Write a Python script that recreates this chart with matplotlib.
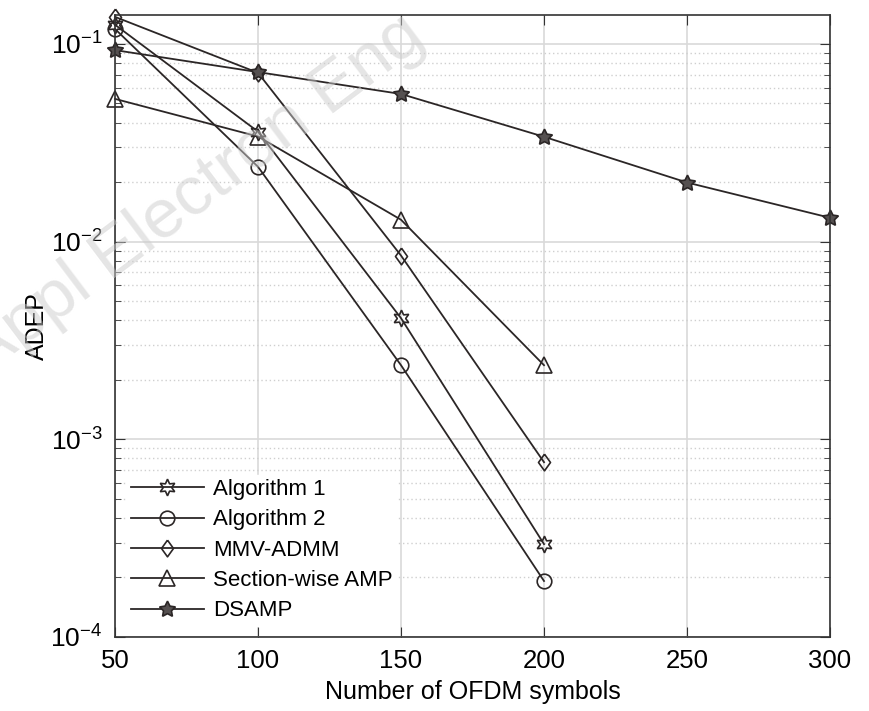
import matplotlib
matplotlib.use("Agg")
import matplotlib.pyplot as plt
from matplotlib.ticker import LogLocator, NullFormatter, FixedLocator, FixedFormatter

plt.rcParams['font.family'] = ['Liberation Sans', 'DejaVu Sans']
plt.rcParams['mathtext.fontset'] = 'custom'
plt.rcParams['mathtext.rm'] = 'Liberation Sans'
plt.rcParams['mathtext.it'] = 'Liberation Sans'
plt.rcParams['mathtext.bf'] = 'Liberation Sans'

x_full = [50, 100, 150, 200, 250, 300]
x_short = [50, 100, 150, 200]

alg1 = [0.125, 0.036, 0.0041, 0.000295]
alg2 = [0.119, 0.0239, 0.00237, 0.000192]
mmv = [0.137, 0.0714, 0.0085, 0.000766]
swamp = [0.0527, 0.034, 0.0129, 0.00237]
dsamp = [0.093, 0.072, 0.0558, 0.0339, 0.0199, 0.0132]

labels = ["Algorithm 1", "Algorithm 2", "MMV-ADMM", "Section-wise AMP", "DSAMP"]
xticks = [50, 100, 150, 200, 250, 300]
yticks = [1e-4, 1e-3, 1e-2, 1e-1]
ytick_labels = [r"$10^{-4}$", r"$10^{-3}$", r"$10^{-2}$", r"$10^{-1}$"]

fig = plt.figure(figsize=(8.69, 7.11), dpi=100)
ax = fig.add_axes([115/869, 1-637/711, (830-115)/869, (637-15)/711])

lc = '#2b2626'
diamond = [(0, 1), (0.72, 0), (0, -1), (-0.72, 0), (0, 1)]
kw = dict(color=lc, lw=1.3, mew=1.2, clip_on=False)
ax.plot(x_short, alg1, marker=(6, 1, 0), ms=12, mfc='none', mec=lc, label=labels[0], **kw)
ax.plot(x_short, alg2, marker='o', ms=10.5, mfc='none', mec=lc, label=labels[1], **kw)
ax.plot(x_short, mmv, marker=diamond, ms=12, mfc='none', mec=lc, label=labels[2], **kw)
ax.plot(x_short, swamp, marker='^', ms=12, mfc='none', mec=lc, label=labels[3], **kw)
ax.plot(x_full, dsamp, marker=(5, 1, 0), ms=12, mfc='#555050', mec=lc, label=labels[4], **kw)

ax.set_yscale('log')
ax.set_xlim(50, 300)
ax.set_ylim(1e-4, 0.14)
ax.set_xticks(xticks)
ax.set_xticklabels([str(v) for v in xticks])
ax.yaxis.set_major_locator(FixedLocator(yticks))
ax.yaxis.set_major_formatter(FixedFormatter(ytick_labels))
ax.yaxis.set_minor_locator(LogLocator(base=10, subs=range(2, 10), numticks=20))
ax.yaxis.set_minor_formatter(NullFormatter())

ax.grid(True, which='major', color='#d9d9d9', lw=1.2, ls='-')
ax.grid(True, which='minor', axis='y', color='#cfcfcf', lw=1.0, ls=(0, (1, 2)))
ax.set_axisbelow(True)

for s in ax.spines.values():
    s.set_color('#333333')
    s.set_linewidth(1.2)
ax.tick_params(which='both', direction='in', top=True, right=True, colors='#333333',
               labelcolor='black')
ax.tick_params(which='major', length=7)
ax.tick_params(which='minor', length=4)
ax.tick_params(axis='x', labelsize=18.5, pad=9)
ax.tick_params(axis='y', labelsize=19, pad=9)

ax.set_xlabel("Number of OFDM symbols", fontsize=18, labelpad=5)
ax.set_ylabel("ADEP", fontsize=18, labelpad=1)

leg = ax.legend(loc='lower left', bbox_to_anchor=(0.0, 0.0), fontsize=16, frameon=True,
                fancybox=False, edgecolor='white', framealpha=1.0, handlelength=3.3,
                borderpad=0.2, labelspacing=0.42, handletextpad=0.4)

fig.text(428/869, 1-42/711, "Appl Electron Eng", fontsize=50, color='#cccccc', alpha=0.5,
         rotation=37, rotation_mode='anchor', ha='right', va='baseline', zorder=10)

fig.savefig("out.png", dpi=100)
